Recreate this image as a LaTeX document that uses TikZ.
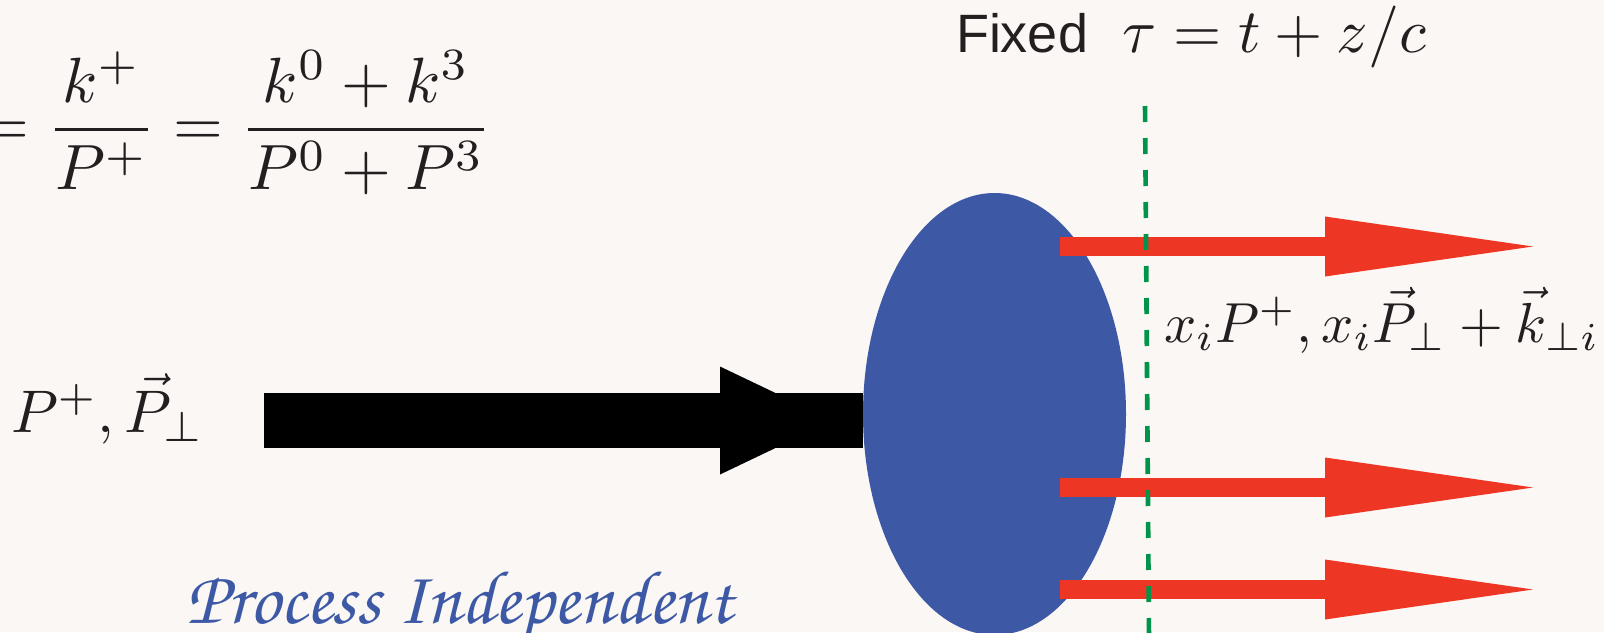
\documentclass[tikz,border=0pt]{standalone}
\usepackage[T1,TU]{fontenc}
\usepackage{fontspec}
\newfontfamily\labelsans{Liberation Sans}
\usetikzlibrary{shapes.geometric,arrows.meta}
\definecolor{bgcol}{RGB}{250,247,244}
\definecolor{hadblue}{RGB}{61,89,166}
\definecolor{partred}{RGB}{238,54,36}
\definecolor{frontgreen}{RGB}{0,147,74}
\definecolor{inkcol}{RGB}{35,31,32}
\newcommand{\chanc}{\fontencoding{T1}\fontfamily{pzc}\fontseries{m}\fontshape{it}\selectfont}
\tikzset{
  mathlbl/.style={inner sep=0pt, outer sep=0pt, text=inkcol, scale=3.1, transform shape},
  sanslbl/.style={inner sep=0pt, outer sep=0pt, text=inkcol, font=\fontsize{27}{32}\selectfont\labelsans},
  scriptlbl/.style={inner sep=0pt, outer sep=0pt, text=hadblue, font=\fontsize{38}{44}\chanc},
  hadron/.style={ellipse, fill=hadblue, draw=none, inner sep=0pt, minimum width=131.5pt, minimum height=221pt},
  blackshaft/.style={draw=black, line width=27.5pt},
  blacktip/.style={draw=black, fill=black, line width=0pt, -{Triangle[length=56.5pt, width=54pt, line width=0pt]}},
  partonarrow/.style={draw=partred, line width=9.5pt, -{Triangle[length=104pt, width=30pt, line width=0pt, fill=partred]}},
  front/.style={draw=frontgreen, line width=2.3pt, dash pattern=on 8pt off 8pt}
}
\begin{document}
\begin{tikzpicture}[x=0.5pt, y=-0.5pt]
\useasboundingbox (0,0) rectangle (1604,632);
\fill[bgcol] (0,0) rectangle (1604,632);
% hadron
\node[hadron] (had) at (994.5,414) {};
% incoming hadron arrow
\coordinate (pin) at (264,420.5);
\coordinate (ptip) at (833,420.5);
\draw[blackshaft] (pin) -- (pin -| had.west);
\draw[blacktip] (pin) -- (ptip);
% partons
\coordinate (q1) at (1060,246.5);
\coordinate (q2) at (1060,487.5);
\coordinate (q3) at (1060,589.5);
\coordinate (r1) at (1533,246.5);
\coordinate (r2) at (1533,487.5);
\coordinate (r3) at (1533,589.5);
\draw[partonarrow] (q1) -- (r1);
\draw[partonarrow] (q2) -- (r2);
\draw[partonarrow] (q3) -- (r3);
% light-front line
\coordinate (ftop) at (1145,106);
\coordinate (fbot) at (1149,640);
\draw[front] (ftop) -- (fbot);
% texts
\node[mathlbl, scale=1.032, anchor=base west] (xdef) at (-20,145.5) {$\displaystyle = \frac{k^+}{P^+} = \frac{k^0+k^3}{P^0+P^3}$};
\node[sanslbl, anchor=base west] (fixed) at (956,52) {Fixed};
\node[mathlbl, anchor=base west] (tau) at (1122,52) {$\tau = t + z/c$};
\node[mathlbl, scale=0.97, anchor=base west] (pmom) at (11,432) {$P^+, \vec{P}_\perp$};
\node[mathlbl, scale=0.91, anchor=base west] (kmom) at (1164,342) {$x_iP^+, x_i\vec{P}_\perp + \vec{k}_{\perp i}$};
\node[scriptlbl, anchor=base west] (proc) at (186,623) {Process Independent};
\end{tikzpicture}
\end{document}
